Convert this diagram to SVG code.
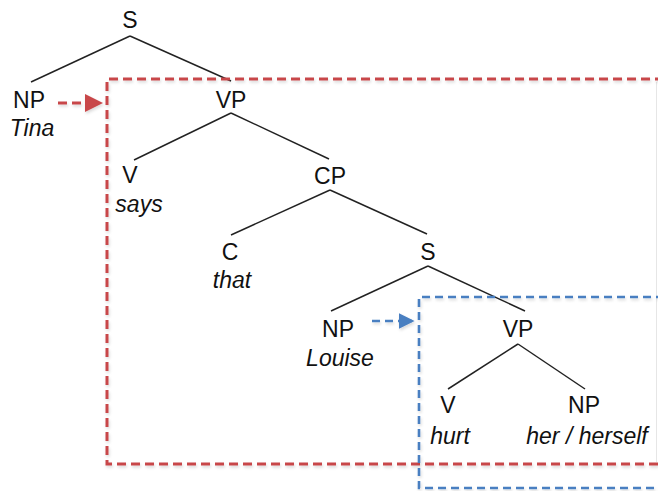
<svg xmlns="http://www.w3.org/2000/svg" width="658" height="491" viewBox="0 0 658 491">
  <style>
    .lbl { font-family: "Liberation Sans", Arial, sans-serif; font-size: 23px; fill: #111; text-anchor: middle; }
    .word { font-family: "Liberation Sans", Arial, sans-serif; font-size: 23px; font-style: italic; fill: #111; text-anchor: middle; }
    .edge { stroke: #222; stroke-width: 1.5; fill: none; }
    .red { stroke: #c8474a; stroke-width: 3; stroke-dasharray: 9 5; fill: none; }
    .blue { stroke: #4a7fc1; stroke-width: 2.6; stroke-dasharray: 8 5; fill: none; }
  </style>
  <defs>
    <marker id="arrRed" markerWidth="6" markerHeight="6" refX="5" refY="3" orient="auto" markerUnits="strokeWidth">
      <path d="M0,0 L6,3 L0,6 Z" fill="#c8474a"/>
    </marker>
    <marker id="arrBlue" markerWidth="6" markerHeight="6" refX="5" refY="3" orient="auto" markerUnits="strokeWidth">
      <path d="M0,0 L6,3 L0,6 Z" fill="#4a7fc1"/>
    </marker>
    <filter id="soft" x="-5%" y="-5%" width="110%" height="110%">
      <feDropShadow dx="1" dy="2" stdDeviation="1.5" flood-color="#000" flood-opacity="0.15"/>
    </filter>
  </defs>
  <rect width="658" height="491" fill="#fff"/>

  <!-- tree branches -->
  <g id="connectors">
    <line class="edge" x1="130" y1="36" x2="31" y2="82"/>
    <line class="edge" x1="130" y1="36" x2="231" y2="81"/>
    <line class="edge" x1="231" y1="113" x2="134" y2="160"/>
    <line class="edge" x1="231" y1="113" x2="329" y2="159"/>
    <line class="edge" x1="330" y1="190" x2="231" y2="235"/>
    <line class="edge" x1="330" y1="190" x2="427" y2="234"/>
    <line class="edge" x1="428" y1="266" x2="331" y2="311"/>
    <line class="edge" x1="428" y1="266" x2="525" y2="311"/>
    <line class="edge" x1="518" y1="344" x2="448" y2="389"/>
    <line class="edge" x1="518" y1="344" x2="585" y2="389"/>
  </g>

  <!-- faint right border of the outer domain -->
  <line x1="656.5" y1="82" x2="656.5" y2="462" stroke="#e6e6e6" stroke-width="1"/>

  <!-- binding domains -->
  <g id="domain-outer" filter="url(#soft)">
    <path class="red" d="M664,79 L107,79 L107,464 L664,464"/>
    <line class="red" x1="58" y1="103" x2="100" y2="103" marker-end="url(#arrRed)"/>
  </g>
  <g id="domain-inner" filter="url(#soft)">
    <path class="blue" d="M664,297 L419,297 L419,488 L664,488"/>
    <line class="blue" x1="372" y1="321" x2="412" y2="321" marker-end="url(#arrBlue)"/>
  </g>

  <g id="s-root"><text class="lbl" x="130" y="28">S</text></g>
  <g id="np-tina">
    <text class="lbl" x="29" y="108">NP</text>
    <text class="word" x="32" y="136">Tina</text>
  </g>
  <g id="vp-main"><text class="lbl" x="231" y="108">VP</text></g>
  <g id="v-says">
    <text class="lbl" x="130" y="183">V</text>
    <text class="word" x="139" y="212">says</text>
  </g>
  <g id="cp"><text class="lbl" x="330" y="184">CP</text></g>
  <g id="c-that">
    <text class="lbl" x="230" y="260">C</text>
    <text class="word" x="232" y="288">that</text>
  </g>
  <g id="s-embedded"><text class="lbl" x="428" y="260">S</text></g>
  <g id="np-louise">
    <text class="lbl" x="338" y="337">NP</text>
    <text class="word" x="340" y="366">Louise</text>
  </g>
  <g id="vp-embedded"><text class="lbl" x="518" y="337">VP</text></g>
  <g id="v-hurt">
    <text class="lbl" x="448" y="413">V</text>
    <text class="word" x="450" y="444">hurt</text>
  </g>
  <g id="np-her">
    <text class="lbl" x="584" y="413">NP</text>
    <text class="word" x="587" y="444">her / herself</text>
  </g>
</svg>
